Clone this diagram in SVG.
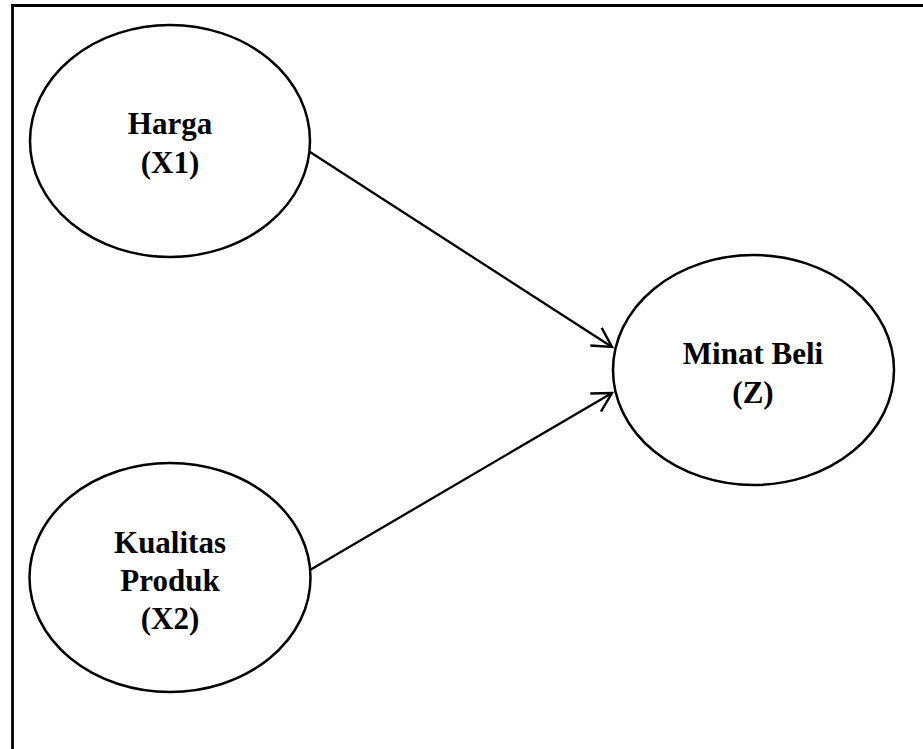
<svg xmlns="http://www.w3.org/2000/svg" width="923" height="749" viewBox="0 0 923 749">
<style>
.node ellipse{fill:#fff;stroke:#000;stroke-width:2.5}
.node text{font-family:"Liberation Serif","Times New Roman",serif;font-weight:bold;font-size:31px;text-anchor:middle;fill:#000}
.edge{stroke:#000;stroke-width:2.3;fill:none}
</style>
<defs>
<marker id="arr" viewBox="0 0 12 12" refX="11" refY="6" markerWidth="12" markerHeight="12" markerUnits="userSpaceOnUse" orient="auto" overflow="visible">
<path d="M-8,-4.5 L11,6 L-8,16.5" fill="none" stroke="#000" stroke-width="2.4"/>
</marker>
</defs>
<rect width="923" height="749" fill="#fff"/>
<path d="M12.5,749 V5.5 H923" fill="none" stroke="#000" stroke-width="2.8"/>
<g id="connectors">
<line class="edge" x1="310" y1="152" x2="612" y2="347" marker-end="url(#arr)"/>
<line class="edge" x1="310" y1="570" x2="612" y2="393" marker-end="url(#arr)"/>
</g>
<g id="harga" class="node">
<ellipse cx="170" cy="141" rx="140" ry="116"/>
<text x="170" y="134">Harga</text>
<text x="170" y="173">(X1)</text>
</g>
<g id="kualitas" class="node">
<ellipse cx="170" cy="577.5" rx="140.5" ry="114.5"/>
<text x="170" y="552.5">Kualitas</text>
<text x="170" y="590.5">Produk</text>
<text x="170" y="628.5">(X2)</text>
</g>
<g id="minat" class="node">
<ellipse cx="753.5" cy="370" rx="140.5" ry="115"/>
<text x="753" y="364">Minat Beli</text>
<text x="753" y="402.5">(Z)</text>
</g>
</svg>
